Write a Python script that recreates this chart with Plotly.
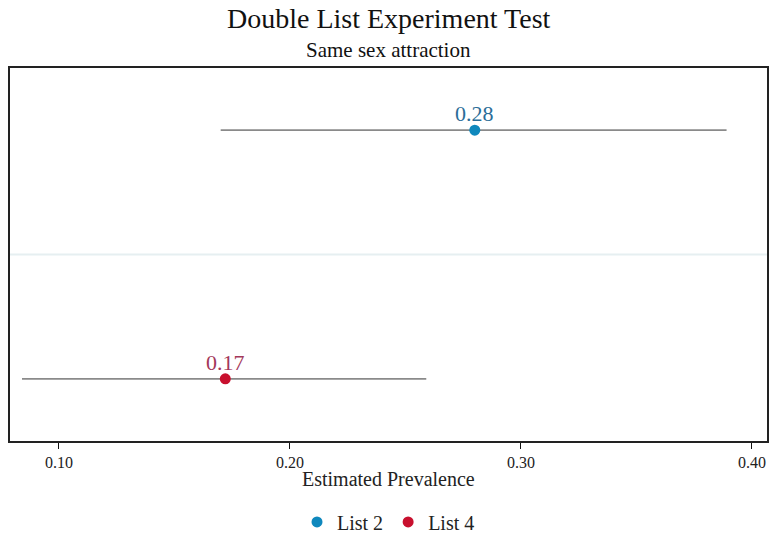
import plotly.graph_objects as go

lists = ["List 2", "List 4"]
estimates = [0.28, 0.172]
ci_low = [0.170, 0.084]
ci_high = [0.389, 0.259]
labels = ["0.28", "0.17"]
ypos = [1, 0]
colors = ["#0f88bd", "#c8102e"]
text_colors = ["#2b6d98", "#a3385a"]
tick_vals = [0.10, 0.20, 0.30, 0.40]
tick_text = ["0.10", "0.20", "0.30", "0.40"]

SERIF = "Liberation Serif, Times New Roman, serif"

fig = go.Figure()
for i in range(len(lists)):
    fig.add_trace(go.Scatter(
        x=[estimates[i]], y=[ypos[i]],
        mode="markers",
        name=lists[i],
        marker=dict(color=colors[i], size=11),
        error_x=dict(type="data", symmetric=False,
                     array=[ci_high[i] - estimates[i]],
                     arrayminus=[estimates[i] - ci_low[i]],
                     color="#8a8a8a", thickness=1.6, width=0),
    ))
    fig.add_annotation(x=estimates[i], y=ypos[i], xref="x", yref="y", text=labels[i],
                       showarrow=False, yanchor="bottom", yshift=2,
                       font=dict(family=SERIF, size=22, color=text_colors[i]))

fig.add_shape(type="line", xref="paper", x0=0, x1=1, yref="y", y0=0.5, y1=0.5,
              line=dict(color="#e6eff1", width=2), layer="below")

fig.add_annotation(text="Double List Experiment Test", xref="paper", yref="paper",
                   x=0.5, y=1.134, showarrow=False, yanchor="middle",
                   font=dict(family=SERIF, size=28, color="#111"))
fig.add_annotation(text="Same sex attraction", xref="paper", yref="paper",
                   x=0.5, y=1.048, showarrow=False, yanchor="middle",
                   font=dict(family=SERIF, size=21, color="#111"))
fig.add_annotation(text="Estimated Prevalence", xref="paper", yref="paper",
                   x=0.5, y=-0.102, showarrow=False, yanchor="middle",
                   font=dict(family=SERIF, size=20, color="#222"))

fig.update_layout(
    width=772, height=538,
    margin=dict(l=10, r=5, t=68, b=97, autoexpand=False),
    paper_bgcolor="white", plot_bgcolor="white",
    showlegend=True,
    legend=dict(orientation="h", x=0.5, xanchor="center", y=-0.217, yanchor="middle",
                font=dict(family=SERIF, size=20, color="#222"), itemwidth=30),
    xaxis=dict(range=[0.0788, 0.4065], tickvals=tick_vals, ticktext=tick_text,
               ticks="outside", ticklen=6, tickcolor="#111", showgrid=False,
               zeroline=False, showline=True, linecolor="#222", linewidth=1.5, mirror=True,
               tickfont=dict(family=SERIF, size=16, color="#222")),
    yaxis=dict(range=[-0.25, 1.25], showticklabels=False, showgrid=False, zeroline=False,
               showline=True, linecolor="#222", linewidth=1.5, mirror=True, ticks=""),
)

fig.write_html("out.html")
